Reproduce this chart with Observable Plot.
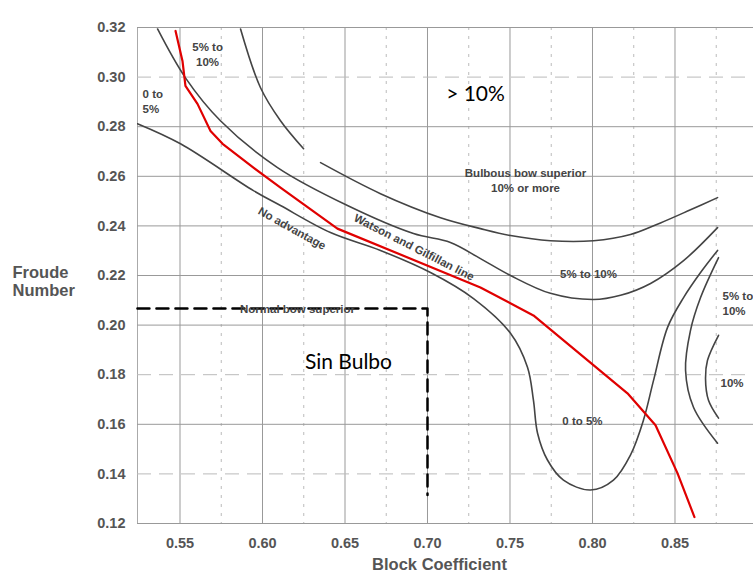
<!DOCTYPE html>
<html>
<head>
<meta charset="utf-8">
<script src="https://cdn.jsdelivr.net/npm/d3@7"></script>
<script src="https://cdn.jsdelivr.net/npm/@observablehq/plot@0.6"></script>
<style>
  html, body { margin: 0; padding: 0; background: #fff; }
  #chart svg { display: block; }
</style>
</head>
<body>
<div id="chart"></div>
<script>
// Axis ticks
const blockCoefTicks = [0.55, 0.60, 0.65, 0.70, 0.75, 0.80, 0.85];
const blockCoefMinor = [0.575, 0.625, 0.675, 0.725, 0.775, 0.825, 0.875];
const froudeTicks = [0.12, 0.14, 0.16, 0.18, 0.20, 0.22, 0.24, 0.26, 0.28, 0.30, 0.32];
const froudeSolidGrid = [0.12, 0.16, 0.20, 0.22, 0.24, 0.26, 0.28, 0.32];
const froudeDashedGrid = [0.14, 0.18, 0.30];

// Curves: [block coefficient, Froude number]
const curveUpperA1 = [[0.5867,0.3194],[0.5988,0.2957],[0.6109,0.2824],[0.6249,0.2711]];
const curveUpperA2 = [[0.6352,0.2655],[0.6715,0.2530],[0.7079,0.2433],[0.7321,0.2389],[0.7503,0.2361],[0.7745,0.2340],[0.8006,0.2340],[0.8230,0.2365],[0.8412,0.2412],[0.8594,0.2465],[0.8758,0.2514]];
const curveWatson = [[0.5364,0.3194],[0.5533,0.2997],[0.5745,0.2824],[0.6091,0.2635],[0.6515,0.2482],[0.6915,0.2369],[0.7139,0.2333],[0.7321,0.2268],[0.7503,0.2200],[0.7745,0.2128],[0.8006,0.2103],[0.8170,0.2120],[0.8352,0.2168],[0.8552,0.2260],[0.8758,0.2393]];
const curveNoAdvantage = [[0.5242,0.2812],[0.5503,0.2731],[0.5945,0.2542],[0.6109,0.2482],[0.6412,0.2373],[0.6715,0.2301],[0.7018,0.2212],[0.7279,0.2107],[0.7503,0.1967],[0.7606,0.1830],[0.7642,0.1697],[0.7667,0.1564],[0.7727,0.1456],[0.7824,0.1375],[0.7988,0.1335],[0.8127,0.1375],[0.8230,0.1476],[0.8309,0.1617],[0.8370,0.1777],[0.8455,0.1991],[0.8552,0.2111],[0.8655,0.2212],[0.8758,0.2301]];
const curveRightOuter = [[0.8764,0.2272],[0.8655,0.2111],[0.8594,0.1979],[0.8564,0.1818],[0.8612,0.1669],[0.8758,0.1524]];
const curveRightInner = [[0.8764,0.1959],[0.8697,0.1858],[0.8685,0.1786],[0.8703,0.1697],[0.8764,0.1625]];
const designLine = [[0.5473,0.3186],[0.5515,0.3065],[0.5533,0.2965],[0.5606,0.2892],[0.5685,0.2783],[0.5758,0.2731],[0.5945,0.2635],[0.6109,0.2554],[0.6454,0.2389],[0.7321,0.2152],[0.7642,0.2039],[0.8212,0.1725],[0.8382,0.1596],[0.8515,0.1403],[0.8618,0.1226]];
const sinBulboLimit = [[0.5242,0.2067],[0.70,0.2067],[0.70,0.1315]];

const grayCurves = [curveUpperA1, curveUpperA2, curveWatson, curveNoAdvantage, curveRightOuter, curveRightInner];

const FONT = "'Liberation Sans', Arial, sans-serif";
const TXT = "#555";

const smallLabels = [
  {text: "5% to\n10%", x: 0.5667, y: 0.3093, anchor: "middle", rotate: 0},
  {text: "0 to\n5%", x: 0.5273, y: 0.2904, anchor: "start", rotate: 0},
  {text: "Bulbous bow superior\n10% or more", x: 0.7594, y: 0.2586, anchor: "middle", rotate: 0},
  {text: "5% to 10%", x: 0.7976, y: 0.2208, anchor: "middle", rotate: 0},
  {text: "5% to\n10%", x: 0.8788, y: 0.2091, anchor: "start", rotate: 0},
  {text: "10%", x: 0.8776, y: 0.1769, anchor: "start", rotate: 0},
  {text: "0 to 5%", x: 0.7939, y: 0.1617, anchor: "middle", rotate: 0},
  {text: "Normal bow superior", x: 0.6212, y: 0.2067, anchor: "middle", rotate: 0},
  {text: "No advantage", x: 0.6182, y: 0.2393, anchor: "middle", rotate: 29},
  {text: "Watson and Gilfillan line", x: 0.6921, y: 0.2317, anchor: "middle", rotate: 27}
];
const bigLabels = [
  {text: "> 10%", x: 0.7291, y: 0.2932},
  {text: "Sin Bulbo", x: 0.6521, y: 0.1850}
];

const chart = Plot.plot({
  width: 753,
  height: 583,
  marginLeft: 137,
  marginRight: 0,
  marginTop: 27,
  marginBottom: 60,
  style: {fontFamily: FONT, background: "#fff"},
  x: {domain: [0.52424, 0.89758], label: null},
  y: {domain: [0.12, 0.32], label: null},
  marks: [
    Plot.ruleX(blockCoefMinor, {stroke: "#bbb", strokeWidth: 1, strokeDasharray: "3,6"}),
    Plot.ruleX(blockCoefTicks, {stroke: "#999", strokeWidth: 1}),
    Plot.ruleX([0.52424], {stroke: "#aaa", strokeWidth: 1}),
    Plot.ruleY(froudeDashedGrid, {stroke: "#bbb", strokeWidth: 1, strokeDasharray: "14,8"}),
    Plot.ruleY(froudeSolidGrid, {stroke: "#999", strokeWidth: 1}),
    Plot.axisY({ticks: froudeTicks, tickSize: 0, tickPadding: 12, tickFormat: d3.format(".2f"), fontSize: 14.5, fontWeight: "bold", fill: TXT, label: null}),
    Plot.axisX({ticks: blockCoefTicks, tickSize: 0, tickPadding: 14, tickFormat: d3.format(".2f"), fontSize: 14.5, fontWeight: "bold", fill: TXT, label: null}),
    ...grayCurves.map(c => Plot.line(c, {x: d => d[0], y: d => d[1], stroke: "#444", strokeWidth: 1.6, curve: "catmull-rom", clip: true})),
    Plot.line(sinBulboLimit, {x: d => d[0], y: d => d[1], stroke: "#000", strokeWidth: 2.5, strokeDasharray: "12,7"}),
    Plot.line(designLine, {x: d => d[0], y: d => d[1], stroke: "#e00000", strokeWidth: 2.2, clip: true}),
    ...smallLabels.map(l => Plot.text([l], {x: "x", y: "y", text: "text", textAnchor: l.anchor, rotate: l.rotate, fontSize: 11.5, fontWeight: "bold", fill: "#444", lineHeight: 1.3})),
    Plot.text(bigLabels, {x: "x", y: "y", text: "text", fontSize: 21, fill: "#000", fontFamily: "Lato, 'Open Sans', sans-serif"}),
    Plot.text(["Froude\nNumber"], {frameAnchor: "left", dx: -125, dy: 6, textAnchor: "start", fontSize: 16.5, fontWeight: "bold", fill: TXT, lineHeight: 1.1}),
    Plot.text(["Block Coefficient"], {frameAnchor: "bottom", dx: -6, dy: 46, fontSize: 16.5, fontWeight: "bold", fill: TXT})
  ]
});
document.getElementById("chart").appendChild(chart);
</script>
</body>
</html>
